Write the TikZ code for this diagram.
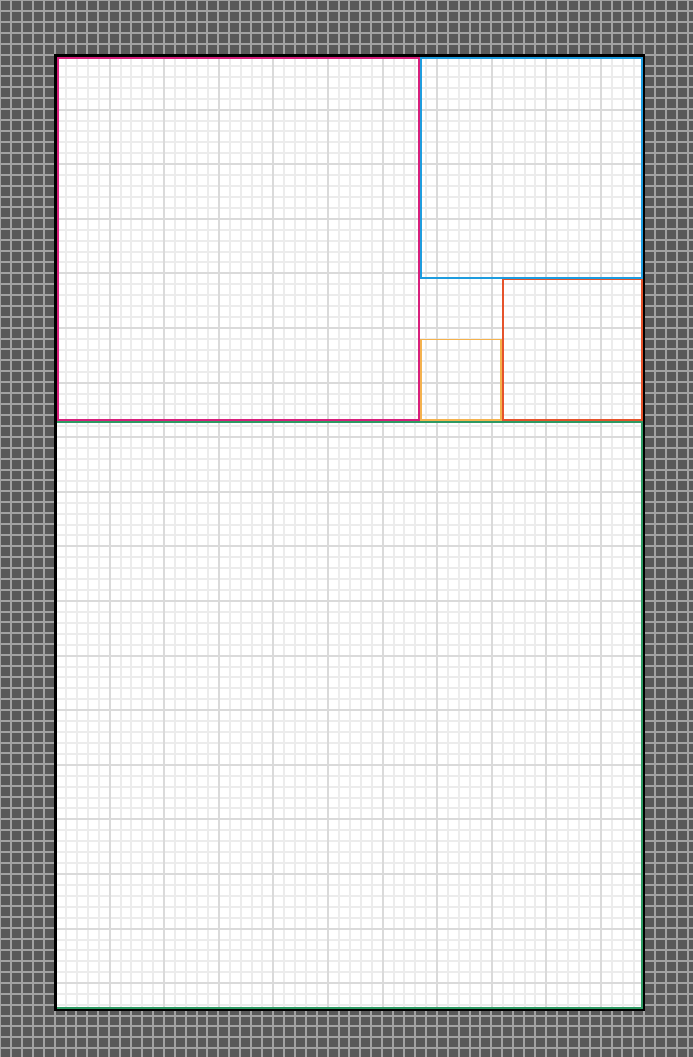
\documentclass[tikz,border=0pt]{standalone}
\definecolor{bggray}{HTML}{595959}
\definecolor{bgline}{HTML}{A2A2A2}
\definecolor{minorline}{HTML}{ECECEC}
\definecolor{majorline}{HTML}{DADADA}
\definecolor{cmagenta}{HTML}{D81F7C}
\definecolor{cblue}{HTML}{1E9CDE}
\definecolor{cred}{HTML}{E5532B}
\definecolor{corange}{HTML}{F4B24E}
\definecolor{cgreen}{HTML}{2E9A63}
\tikzset{
  bggrid/.style={draw=bgline, line width=2pt},
  minorgrid/.style={draw=minorline, line width=2pt},
  majorgrid/.style={draw=majorline, line width=2pt},
  sq/.style={line width=1.8pt},
  frame/.style={draw=black, line width=2.4pt}
}
\begin{document}
\begin{tikzpicture}[x=1pt,y=-1pt]
\useasboundingbox (0,0) rectangle (693,1057);
\fill[bggray] (0,0) rectangle (693,1057);
\foreach \i in {0,...,64} {
  \pgfmathsetmacro\xx{round(10.92*\i)}
  \draw[bggrid] (\xx,0) -- (\xx,1057);
}
\foreach \j in {0,...,97} {
  \pgfmathsetmacro\yy{round(10.92*\j)}
  \draw[bggrid] (0,\yy) -- (693,\yy);
}
\fill[white] (55,55) rectangle (644,1010);
\begin{scope}
\clip (55,55) rectangle (644,1010);
\foreach \i in {1,...,54} {
  \pgfmathsetmacro\xx{round(55+10.92*\i)}
  \draw[minorgrid] (\xx,55) -- (\xx,1010);
}
\foreach \j in {1,...,88} {
  \pgfmathsetmacro\yy{round(55+10.92*\j)}
  \draw[minorgrid] (55,\yy) -- (644,\yy);
}
\foreach \i in {1,...,10} {
  \pgfmathsetmacro\xx{round(55+54.6*\i)}
  \draw[majorgrid] (\xx,55) -- (\xx,1010);
}
\foreach \j in {1,...,17} {
  \pgfmathsetmacro\yy{round(55+54.6*\j)}
  \draw[majorgrid] (55,\yy) -- (644,\yy);
}
\end{scope}
\draw[frame] (55.5,55.5) rectangle (644.2,1010.2);
\draw[sq, cgreen] (55.5,421.8) rectangle (642.2,1008.2);
\draw[sq, cmagenta] (57.8,57.8) rectangle (419.3,420.2);
\draw[sq, cblue] (420.6,57.8) rectangle (642.2,277.6);
\draw[sq, cred] (502.8,279.4) rectangle (642.2,420.2);
\draw[sq, corange] (420.8,339.4) rectangle (501.0,420.2);
\draw[black, line width=2.4pt] (55.5,55.5) -- (55.5,1010.2);
\end{tikzpicture}
\end{document}
